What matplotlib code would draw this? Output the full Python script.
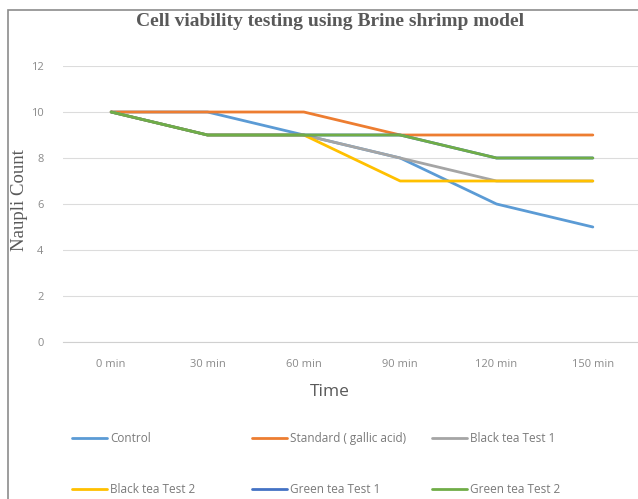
import matplotlib
matplotlib.use('Agg')
import matplotlib.pyplot as plt
from matplotlib.patches import Rectangle

# data
times = ['0 min', '30 min', '60 min', '90 min', '120 min', '150 min']
control = [10, 10, 9, 8, 6, 5]
standard = [10, 10, 10, 9, 9, 9]
black_tea_1 = [10, 9, 9, 8, 7, 7]
black_tea_2 = [10, 9, 9, 7, 7, 7]
green_tea_1 = [10, 9, 9, 9, 8, 8]
green_tea_2 = [10, 9, 9, 9, 8, 8]

series = [
    ('Control', control, '#5B9BD5'),
    ('Standard ( gallic acid)', standard, '#ED7D31'),
    ('Black tea Test 1', black_tea_1, '#A5A5A5'),
    ('Black tea Test 2', black_tea_2, '#FFC000'),
    ('Green tea Test 1', green_tea_1, '#4472C4'),
    ('Green tea Test 2', green_tea_2, '#70AD47'),
]

W, H = 638, 499
fig = plt.figure(figsize=(W / 100, H / 100), dpi=100)
fig.patch.set_facecolor('white')

# chart border (left and top visible)
fig.patches.append(Rectangle((8 / W, -0.05), 1.2, (H - 10) / H + 0.05,
                             transform=fig.transFigure, fill=False,
                             edgecolor='#8c8c8c', linewidth=1.2))

ax = fig.add_axes([63 / W, 157 / H, (641 - 63) / W, (433 - 157) / H])
x = list(range(len(times)))
handles = []
for name, vals, col in series:
    ln, = ax.plot(x, vals, color=col, linewidth=2.0, label=name,
                  solid_joinstyle='round', solid_capstyle='round')
    handles.append(ln)

ax.set_xlim(-0.5, len(times) - 0.5)
ax.set_ylim(0, 12)
ax.set_yticks(range(0, 13, 2))
ax.set_xticks(x)
ax.set_xticklabels(times)
ax.grid(axis='y', color='#dcdcdc', linewidth=0.8)
ax.set_axisbelow(True)
for s in ['top', 'right', 'left']:
    ax.spines[s].set_visible(False)
ax.spines['bottom'].set_color('#d0d0d0')
ax.spines['bottom'].set_linewidth(0.8)
ax.tick_params(length=0, labelsize=8, labelcolor='#8a8a8a')
ax.tick_params(axis='y', pad=14)
ax.tick_params(axis='x', pad=12)
for t in ax.get_xticklabels() + ax.get_yticklabels():
    t.set_family('Open Sans')

fig.text(330 / W, 1 - 22 / H, 'Cell viability testing using Brine shrimp model',
         ha='center', va='center', family='Liberation Serif', weight='bold',
         fontsize=14, color='#595959')
fig.text(20 / W, 1 - 200 / H, 'Naupli Count', rotation=90, ha='center',
         va='center', family='Liberation Serif', fontsize=13.5, color='#595959')
fig.text(330 / W, 1 - 392 / H, 'Time', ha='center', va='center',
         family='Open Sans', fontsize=12.5, color='#595959')

# legend: three columns, two rows each
col_x = [72, 252, 432]
for i, cx in enumerate(col_x):
    hs = [handles[i], handles[i + 3]]
    fig.legend(hs, [h.get_label() for h in hs], loc='upper left',
               bbox_to_anchor=(cx / W, 1 - 432 / H), frameon=False,
               handlelength=3.0, handletextpad=0.2,
               labelspacing=3.2, borderaxespad=0, borderpad=0,
               labelcolor='#7a7a7a', prop={'family': 'Open Sans', 'size': 8.5})

fig.savefig('out.png', dpi=100, facecolor='white')
